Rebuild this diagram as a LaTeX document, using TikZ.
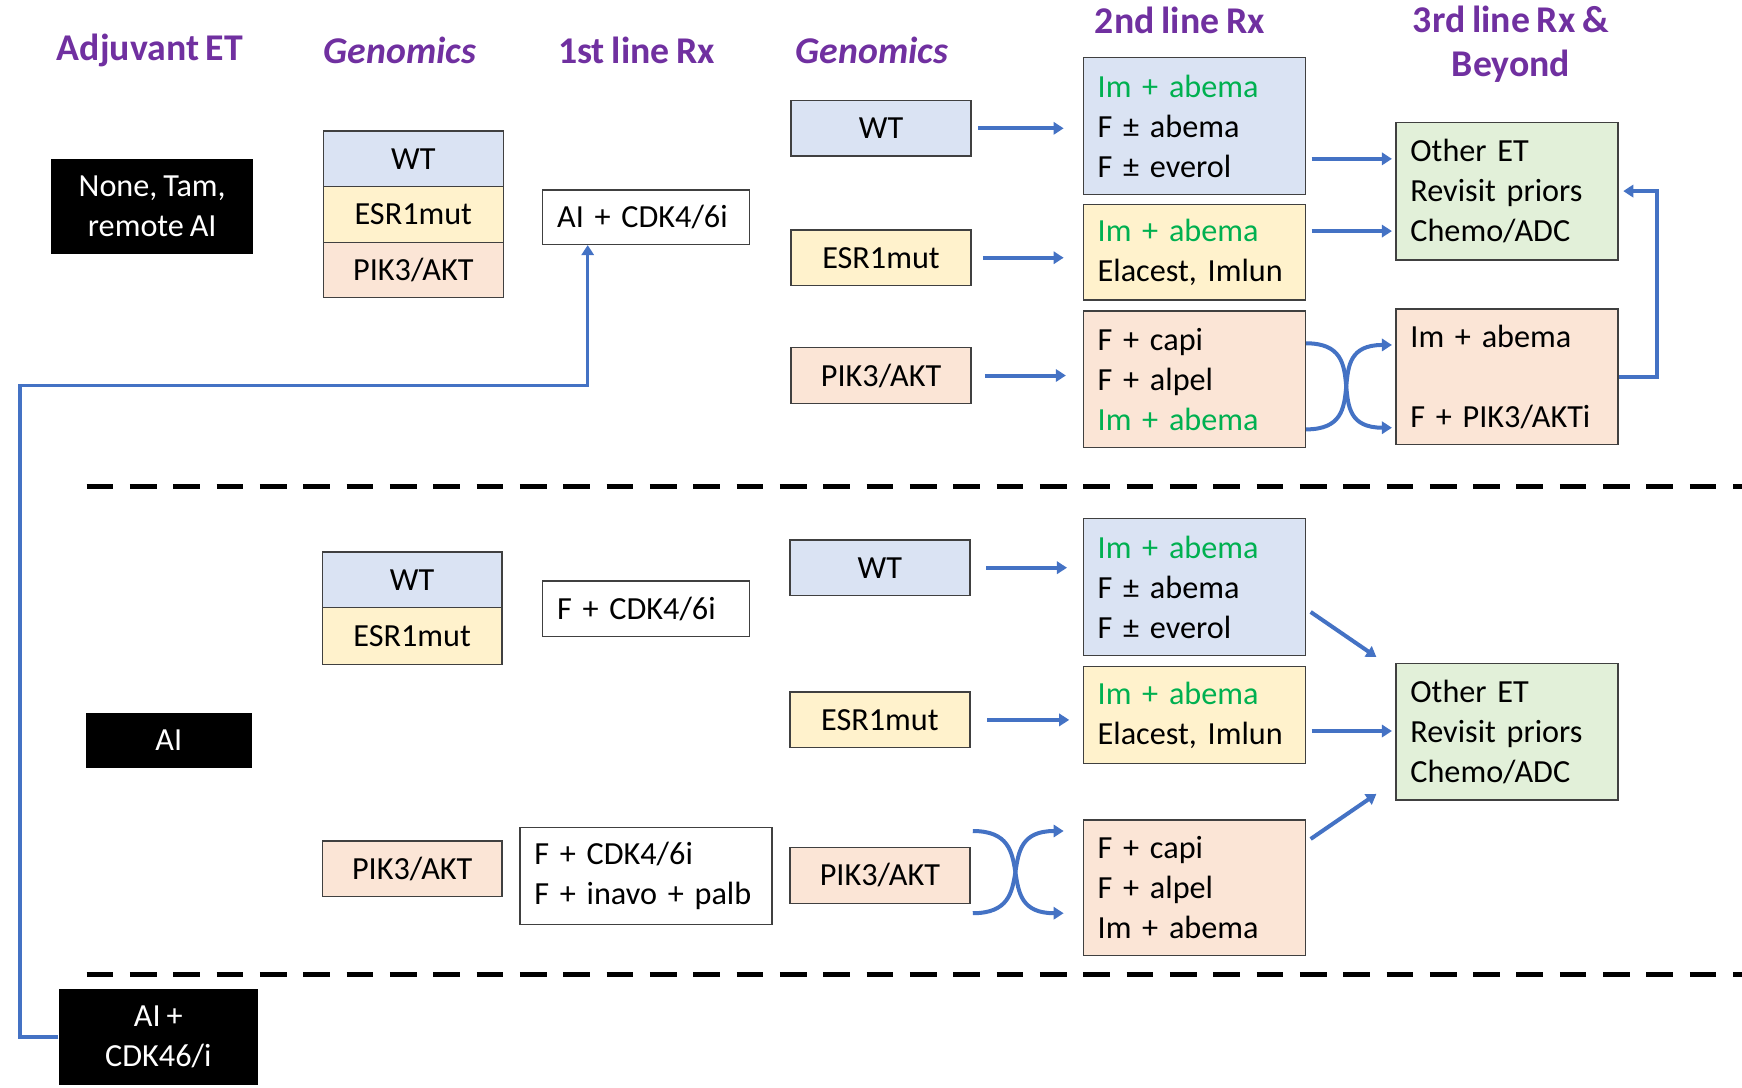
\documentclass[tikz,border=0pt]{standalone}
\usepackage{fontspec}
\setmainfont{Carlito}[WordSpace=0.8]
\usetikzlibrary{arrows.meta}
\definecolor{wtblue}{RGB}{218,227,243}
\definecolor{esryel}{RGB}{255,242,204}
\definecolor{pikorg}{RGB}{251,229,214}
\definecolor{etgreen}{RGB}{226,240,217}
\definecolor{hdpurple}{RGB}{112,48,160}
\definecolor{abgreen}{RGB}{0,176,80}
\definecolor{arrblue}{RGB}{68,114,196}
\tikzset{
  hd/.style={font=\fontsize{17}{20}\selectfont\bfseries, text=hdpurple, align=center},
  gbox/.style={draw=black!75, line width=0.6pt, minimum width=81pt, minimum height=25pt, inner sep=0pt, font=\fontsize{14.5}{18}\selectfont},
  blk/.style={fill=black, text=white, inner sep=0pt, align=center, font=\fontsize{14.5}{18}\selectfont},
  rx/.style={draw=black!75, line width=0.6pt, inner xsep=6.5pt, inner ysep=0pt, text width=87pt, align=left, font=\fontsize{14.5}{18}\selectfont},
  flow/.style={draw=arrblue, line width=1.8pt, -{Triangle[length=4.5pt,width=5.5pt]}},
  sep/.style={line width=2.5pt, dash pattern=on 12pt off 7.5pt},
}
\begin{document}
\begin{tikzpicture}[x=0.5pt,y=-0.5pt]
\useasboundingbox (0,0) rectangle (1568,979);

\node[hd] (hAdj) at (135,45) {Adjuvant ET};
\node[hd] (hGenA) at (360,45) {\itshape Genomics};
\node[hd] (hFirst) at (573,45) {1st line Rx};
\node[hd] (hGenB) at (785,45) {\itshape Genomics};
\node[hd] (hSecond) at (1062,18) {2nd line Rx};
\node[hd] (hThird) at (1360,40) {3rd line Rx \&\\Beyond};

\node[blk, minimum width=91pt, minimum height=43pt] (adjA) at (137,186) {None, Tam,\\remote AI};
\node[gbox, fill=wtblue] (wtA) at (372,143) {WT};
\node[gbox, fill=esryel] (esrA) at (372,193) {ESR1mut};
\node[gbox, fill=pikorg] (pikA) at (372,243) {PIK3/AKT};
\node[rx, fill=white, text width=80pt, minimum height=24.5pt] (firstA) at (581.5,195.5) {AI + CDK4/6i};
\node[gbox, fill=wtblue] (gwtA) at (793,115.5) {WT};
\node[gbox, fill=esryel] (gesrA) at (793,232) {ESR1mut};
\node[gbox, fill=pikorg] (gpikA) at (793,338) {PIK3/AKT};
\node[rx, fill=wtblue, minimum height=61.5pt] (secA1) at (1075,113.5) {\textcolor{abgreen}{Im + abema}\\F ± abema\\F ± everol};
\node[rx, fill=esryel, minimum height=43pt] (secA2) at (1075,227) {\textcolor{abgreen}{Im + abema}\\Elacest, Imlun};
\node[rx, fill=pikorg, minimum height=61.5pt] (secA3) at (1075,341.5) {F + capi\\F + alpel\\\textcolor{abgreen}{Im + abema}};
\node[rx, fill=etgreen, minimum height=62pt] (thrA1) at (1356.5,172) {Other ET\\Revisit priors\\Chemo/ADC};
\node[rx, fill=pikorg, minimum height=61pt] (thrA2) at (1356.5,339) {Im + abema\\[18pt]F + PIK3/AKTi};

\draw[sep] (78,438) -- (1568,438);
\draw[sep] (78,877) -- (1568,877);

\node[blk, minimum width=75pt, minimum height=24.5pt] (adjB) at (152,666.5) {AI};
\node[blk, minimum width=89.5pt, minimum height=43.5pt] (adjC) at (142.5,933.5) {AI +\\CDK46/i};
\node[gbox, fill=wtblue] (wtB) at (371,522) {WT};
\node[gbox, fill=esryel, minimum height=25.5pt] (esrB) at (371,572.5) {ESR1mut};
\node[gbox, fill=pikorg] (pikB) at (371,782) {PIK3/AKT};
\node[rx, fill=white, text width=80pt, minimum height=25pt] (firstB) at (581.5,548) {F + CDK4/6i};
\node[rx, fill=white, text width=100.5pt, minimum height=43.5pt] (firstC) at (581.5,788.5) {F + CDK4/6i\\F + inavo + palb};
\node[gbox, fill=wtblue] (gwtB) at (792,511) {WT};
\node[gbox, fill=esryel] (gesrB) at (792,648) {ESR1mut};
\node[gbox, fill=pikorg] (gpikB) at (792,788) {PIK3/AKT};
\node[rx, fill=wtblue, minimum height=61.5pt] (secB1) at (1075,528.5) {\textcolor{abgreen}{Im + abema}\\F ± abema\\F ± everol};
\node[rx, fill=esryel, minimum height=43.5pt] (secB2) at (1075,643.5) {\textcolor{abgreen}{Im + abema}\\Elacest, Imlun};
\node[rx, fill=pikorg, minimum height=61pt] (secB3) at (1075,799) {F + capi\\F + alpel\\Im + abema};
\node[rx, fill=etgreen, minimum height=61.5pt] (thrB) at (1356.5,658.5) {Other ET\\Revisit priors\\Chemo/ADC};

\draw[flow, shorten <=3pt, shorten >=8.5pt] (gwtA.east) -- (gwtA.east -| secA1.west);
\draw[flow, shorten <=5pt, shorten >=8.5pt] (gesrA.east) -- (gesrA.east -| secA2.west);
\draw[flow, shorten <=6pt, shorten >=7.5pt] (gpikA.east) -- (gpikA.east -| secA3.west);
\draw[flow, shorten <=2.5pt, shorten >=1.5pt] ([yshift=-14.75pt]secA1.east) -- ([yshift=-14.75pt]secA1.east -| thrA1.west);
\draw[flow, shorten <=2.5pt, shorten >=1.5pt] ([yshift=9.5pt]secA2.east) -- ([yshift=9.5pt]secA2.east -| thrA1.west);
\draw[flow] ([yshift=16.25pt]secA3.east) .. controls +(32pt,0) and +(-34pt,0) .. ([shift={(-1.5pt,-23pt)}]thrA2.west);
\draw[flow] ([yshift=-22.5pt]secA3.east) .. controls +(32pt,0) and +(-34pt,0) .. ([shift={(-1.5pt,14.25pt)}]thrA2.west);
\draw[flow, shorten >=2pt] (thrA2.east) -- ++(17pt,0) |- (thrA1.east);

\coordinate (lpA) at (18,347);
\coordinate (lpB) at (529,347);
\draw[flow, line width=1.5pt] (adjC.west) -| (lpA) -- (lpB) -- (lpB |- firstA.south);

\draw[flow, shorten <=7pt, shorten >=7pt] (gwtB.east) -- (gwtB.east -| secB1.west);
\draw[flow, shorten <=7.5pt, shorten >=6pt] (gesrB.east) -- (gesrB.east -| secB2.west);
\draw[flow, shorten <=2.5pt] ([yshift=-9.75pt]secB1.east) -- ([shift={(-8.5pt,2.5pt)}]thrB.north west);
\draw[flow, shorten <=2.5pt, shorten >=1.5pt] ([yshift=-7.25pt]secB2.east) -- ([yshift=-7.25pt]secB2.east -| thrB.west);
\draw[flow, shorten <=2.5pt] ([yshift=20.5pt]secB3.east) -- ([shift={(-8.5pt,3pt)}]thrB.south west);
\draw[flow] ([shift={(1pt,20pt)}]gpikB.east) .. controls +(32pt,0) and +(-34pt,0) .. ([shift={(-8.5pt,-11.5pt)}]secB3.west);
\draw[flow] ([shift={(1pt,-17pt)}]gpikB.east) .. controls +(32pt,0) and +(-34pt,0) .. ([shift={(-8.5pt,25.5pt)}]secB3.west);
\end{tikzpicture}
\end{document}
